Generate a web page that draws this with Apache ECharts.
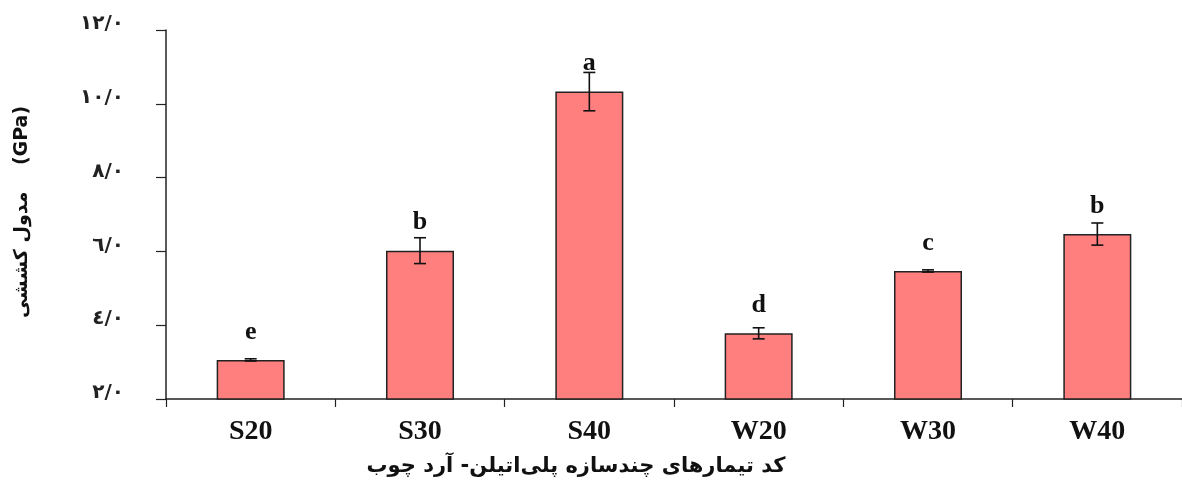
<!DOCTYPE html>
<html>
<head>
<meta charset="utf-8">
<script src="https://cdn.jsdelivr.net/npm/echarts@6/dist/echarts.min.js"></script>
<style>
  html, body { margin: 0; padding: 0; background: #fff; }
  #chart { width: 1182px; height: 486px; }
</style>
</head>
<body>
<div id="chart"></div>
<script>
// Composite treatments (polyethylene / wood flour)
const categories = ['S20', 'S30', 'S40', 'W20', 'W30', 'W40'];
// Tensile modulus, GPa
const modulus = [3.06, 6.02, 10.33, 3.78, 5.47, 6.47];
// Standard deviation for each treatment
const deviation = [0.03, 0.35, 0.52, 0.15, 0.03, 0.30];
// Duncan grouping letters
const groups = ['e', 'b', 'a', 'd', 'c', 'b'];
// Y-axis tick values and their labels
const yTickValues = [2, 4, 6, 8, 10, 12];
const yTickLabels = ['٢/٠', '٤/٠', '٦/٠', '٨/٠', '١٠/٠', '١٢/٠'];

const yAxisTitle = 'مدول کششی    (GPa)';
const xAxisTitle = 'کد تیمارهای چندسازه پلی\u200cاتیلن- آرد چوب';

const chart = echarts.init(document.getElementById('chart'), null, { renderer: 'canvas' });

const errorData = categories.map((c, i) => [i, modulus[i], deviation[i]]);

chart.setOption({
  animation: false,
  backgroundColor: '#ffffff',
  grid: { left: 166, top: 30, width: 1020, height: 369, containLabel: false },
  xAxis: {
    type: 'category',
    data: categories,
    axisLine: { lineStyle: { color: '#222', width: 1.5 } },
    axisTick: { show: true, length: 8, lineStyle: { color: '#222', width: 1.2 } },
    axisLabel: {
      margin: 19,
      color: '#111',
      fontFamily: 'Liberation Serif',
      fontWeight: 'bold',
      fontSize: 28
    }
  },
  yAxis: {
    type: 'value',
    min: 2,
    max: 12,
    interval: 2,
    splitLine: { show: false },
    axisLine: { show: true, lineStyle: { color: '#222', width: 1.5 } },
    axisTick: { show: true, length: 10, lineStyle: { color: '#222', width: 1.2 } },
    axisLabel: {
      margin: 42,
      color: '#222',
      fontFamily: 'DejaVu Sans',
      fontWeight: 'bold',
      fontSize: 20,
      lineHeight: 12,
      verticalAlign: 'bottom',
      formatter: function (v) {
        const k = yTickValues.indexOf(v);
        return k >= 0 ? yTickLabels[k] : '';
      }
    }
  },
  series: [
    {
      type: 'bar',
      data: modulus,
      barWidth: 68,
      itemStyle: { color: '#FF7F7F', borderColor: '#222', borderWidth: 1.5 },
      label: {
        show: true,
        position: 'top',
        distance: 15,
        color: '#111',
        fontFamily: 'Liberation Serif',
        fontWeight: 'bold',
        fontSize: 26,
        formatter: function (p) { return groups[p.dataIndex]; }
      },
      z: 2
    },
    {
      type: 'custom',
      data: errorData,
      z: 5,
      renderItem: function (params, api) {
        const i = api.value(0);
        const v = api.value(1);
        const e = api.value(2);
        const hi = api.coord([i, v + e]);
        const lo = api.coord([i, v - e]);
        const cap = 6;
        const style = { stroke: '#111', lineWidth: 1.6 };
        return {
          type: 'group',
          children: [
            { type: 'line', shape: { x1: hi[0], y1: hi[1], x2: lo[0], y2: lo[1] }, style: style },
            { type: 'line', shape: { x1: hi[0] - cap, y1: hi[1], x2: hi[0] + cap, y2: hi[1] }, style: style },
            { type: 'line', shape: { x1: lo[0] - cap, y1: lo[1], x2: lo[0] + cap, y2: lo[1] }, style: style }
          ]
        };
      }
    }
  ],
  graphic: [
    {
      type: 'text',
      x: 22,
      y: 212,
      rotation: Math.PI / 2,
      style: {
        text: yAxisTitle,
        fill: '#111',
        font: 'bold 19px "DejaVu Sans"',
        textAlign: 'center',
        textVerticalAlign: 'middle'
      }
    },
    {
      type: 'text',
      x: 576,
      y: 467,
      style: {
        text: xAxisTitle,
        fill: '#111',
        font: 'bold 21px "DejaVu Sans"',
        textAlign: 'center',
        textVerticalAlign: 'middle'
      }
    }
  ]
});
</script>
</body>
</html>
